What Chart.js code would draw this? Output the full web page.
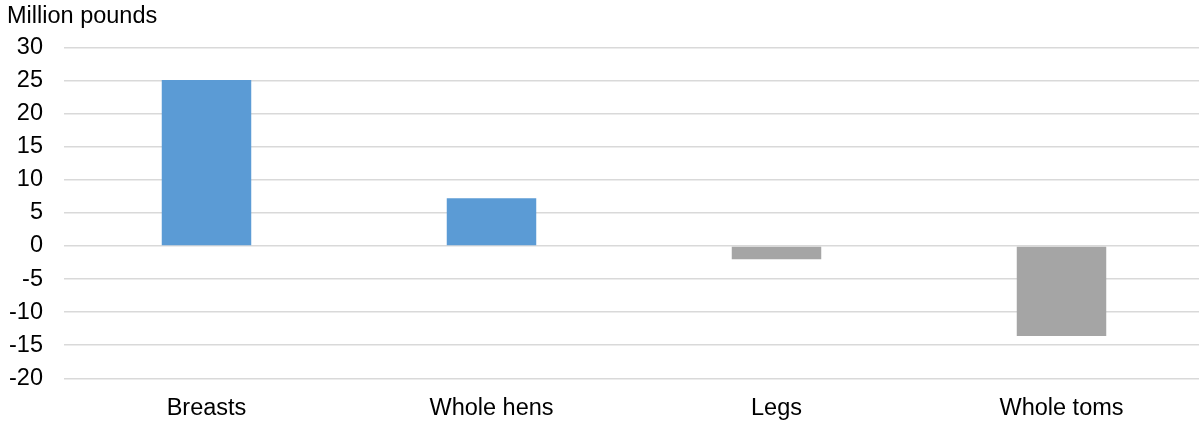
<!DOCTYPE html>
<html>
<head>
<meta charset="utf-8">
<script src="https://cdn.jsdelivr.net/npm/chart.js@4/dist/chart.umd.min.js"></script>
<style>
  html, body { margin: 0; padding: 0; background: #ffffff; overflow: hidden; }
  /* the plot runs a few pixels past the visible right edge */
  #wrap { position: relative; width: 1199px; height: 423px; overflow: hidden; }
  #chart { display: block; }
</style>
</head>
<body>
<div id="wrap"><canvas id="chart" width="1204" height="423"></canvas></div>
<script>
// Change in cold-storage stocks by turkey product
const categories = ["Breasts", "Whole hens", "Legs", "Whole toms"];
const changeValues = [25.1, 7.2, -2.0, -13.6];
const yTicks = [30, 25, 20, 15, 10, 5, 0, -5, -10, -15, -20];
const unitLabel = "Million pounds";

const barColors = changeValues.map(v => v >= 0 ? "#5B9BD5" : "#A5A5A5");
const fontSize = 23.5;
const lineH = fontSize * 1.2;
const font = { family: "'Liberation Sans', Arial, sans-serif", size: fontSize };

new Chart(document.getElementById("chart"), {
  type: "bar",
  data: {
    labels: categories,
    datasets: [{
      data: changeValues,
      backgroundColor: barColors,
      borderWidth: 0,
      categoryPercentage: 1.0,
      barPercentage: 0.314
    }]
  },
  options: {
    responsive: false,
    animation: false,
    layout: { padding: { left: 7, right: 0, top: 0, bottom: 0.5 } },
    plugins: {
      legend: { display: false },
      tooltip: { enabled: false },
      title: {
        display: true,
        text: unitLabel,
        align: "start",
        color: "#000000",
        font: { ...font, weight: "normal" },
        padding: { top: 2.3, bottom: 47.5 - 2.3 - lineH }
      }
    },
    scales: {
      x: {
        grid: { display: false, drawTicks: false },
        border: { display: false },
        ticks: { color: "#000000", font: font, padding: 16, maxRotation: 0 },
        // label band: padding above the text plus one text line
        afterFit: axis => { axis.height = 16 + lineH; }
      },
      y: {
        min: -20,
        max: 30,
        afterBuildTicks: axis => { axis.ticks = yTicks.map(v => ({ value: v })); },
        grid: { color: "#D9D9D9", lineWidth: 1.5, drawTicks: false },
        border: { display: false },
        ticks: { color: "#000000", font: font, padding: 21 },
        afterFit: axis => { axis.width = 57; }
      }
    }
  }
});
</script>
</body>
</html>
